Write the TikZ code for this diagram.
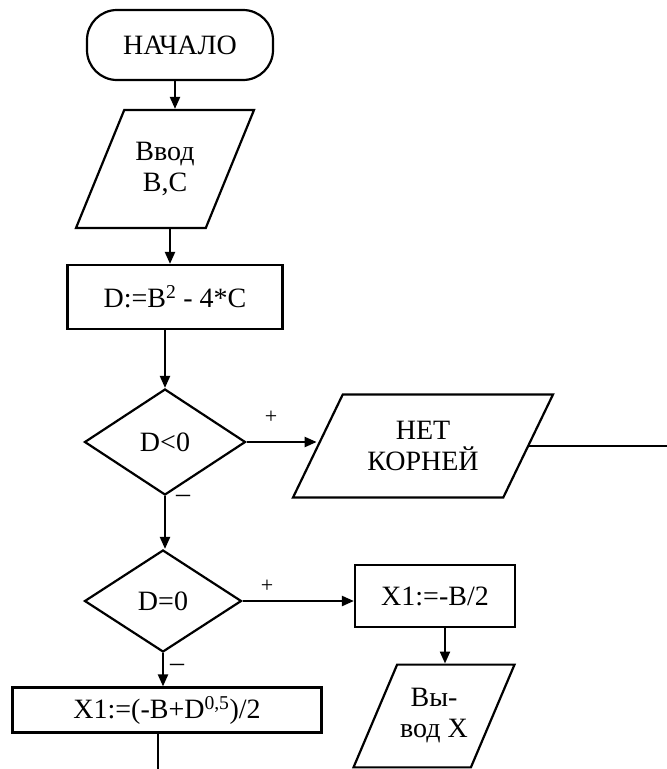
\documentclass[tikz,border=0pt]{standalone}
\usepackage{fontspec}
\setmainfont{Liberation Serif}
\usetikzlibrary{shapes.geometric,arrows.meta}

\begin{document}
\begin{tikzpicture}[x=1pt, y=-1pt, line width=2.2pt,
    font=\fontsize{28}{31}\selectfont,
    term/.style={draw, rectangle, rounded corners=30pt, minimum width=186pt, minimum height=70pt},
    io/.style={draw, trapezium, trapezium stretches body, align=center, inner xsep=0pt},
    proc/.style={draw, rectangle, align=center, inner sep=0pt},
    cond/.style={draw, diamond, aspect=1.5, inner sep=0pt},
    conn/.style={-{Triangle[length=12pt,width=10pt]}},
    signlabel/.style={font=\fontsize{22}{24}\selectfont}]
        \useasboundingbox (0,0) rectangle (667,769);
        \node[term] (start) at (180,45) {НАЧАЛО};
        \node[io, trapezium left angle=67, trapezium right angle=113, inner ysep=30pt,
            minimum width=178pt, minimum height=118pt] (input) at (165,169) {Ввод\\B,C};
        \node[proc, minimum width=215pt, minimum height=64pt] (calc) at (175,297) {D:=B\textsuperscript{2} - 4*C};
        \node[cond, minimum width=161pt, minimum height=106pt] (dlt) at (165,442) {D<0};
        \node[io, trapezium left angle=63, trapezium right angle=117, inner ysep=24pt,
            minimum width=260pt, minimum height=103pt] (none) at (423,446) {НЕТ\\КОРНЕЙ};
        \node[cond, minimum width=157pt, minimum height=102pt] (deq) at (163,601) {D=0};
        \node[proc, minimum width=160pt, minimum height=62pt] (half) at (435,596) {X1:=-B/2};
        \node[proc, minimum width=309pt, minimum height=45pt] (root) at (167,710) {X1:=(-B+D\textsuperscript{0,5})/2};
        \node[io, trapezium left angle=67, trapezium right angle=113, inner ysep=24pt,
            minimum width=161pt, minimum height=102pt] (output) at (434,716) {Вы-\\вод X};
        \coordinate (noneend) at (667,446);
        \coordinate (rootend) at (158,769);
        \node[signlabel] (plusa) at (271,417) {+};
        \node[signlabel] (plusb) at (267,586) {+};
        \node (minusa) at (183,499) {--};
        \node (minusb) at (177,668) {--};
        \draw[conn] (start.south -| 175,0) -- (input.north -| 175,0);
        \draw[conn] (input.south -| 170,0) -- (calc.north -| 170,0);
        \draw[conn] (calc.south -| dlt.north) -- (dlt.north);
        \draw[conn] (dlt.east) -- (dlt.east -| none.west);
        \draw (none.east) -- (none.east -| noneend);
        \draw[conn] (dlt.south) -- (dlt.south |- deq.north);
        \draw[conn] (deq.east) -- (deq.east -| half.west);
        \draw[conn] (deq.south) -- (root.north -| deq.south);
        \draw[conn] (half.south -| 445,0) -- (output.north -| 445,0);
        \draw (root.south -| rootend) -- (rootend);
    \end{tikzpicture}
\end{document}
